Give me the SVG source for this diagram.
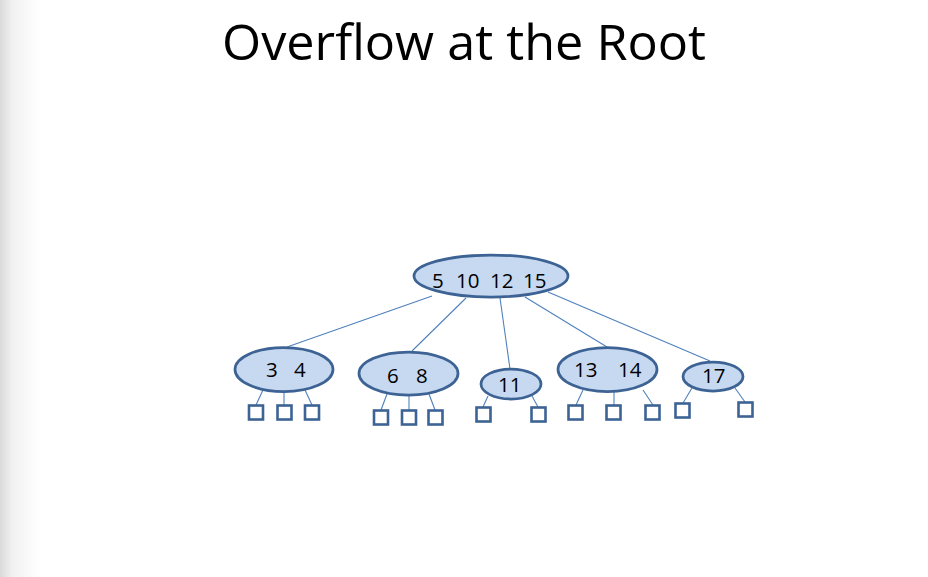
<svg xmlns="http://www.w3.org/2000/svg" width="928" height="577" viewBox="0 0 928 577">
<defs>
<linearGradient id="shade" x1="0" y1="0" x2="1" y2="0">
<stop offset="0" stop-color="#dadada"/>
<stop offset="0.3" stop-color="#f1f1f1"/>
<stop offset="1" stop-color="#ffffff"/>
</linearGradient>
<style>
.node ellipse{fill:#c6d9f1;stroke:#3d6394;stroke-width:2.75}
.node text{font-family:"Open Sans","Liberation Sans",sans-serif;font-size:20.5px;fill:#000}
.leaf{fill:#fff;stroke:#3d6394;stroke-width:2.6}
.conn line{stroke:#4f81bd;stroke-width:1.1}
.title{font-family:"Open Sans","Liberation Sans",sans-serif;font-size:49px;fill:#000}
</style>
</defs>
<rect width="928" height="577" fill="#fff"/>
<rect x="0" y="0" width="40" height="577" fill="url(#shade)"/>
<text class="title" x="222" y="60" textLength="484" lengthAdjust="spacingAndGlyphs">Overflow at the Root</text>
<g id="connectors" class="conn">
<line x1="432" y1="296" x2="287" y2="347"/>
<line x1="466" y1="298" x2="412" y2="351"/>
<line x1="500" y1="298" x2="510" y2="369"/>
<line x1="525" y1="297" x2="607" y2="347"/>
<line x1="548" y1="292" x2="710" y2="361"/>
<line x1="263" y1="390" x2="256" y2="405"/>
<line x1="284" y1="392" x2="284" y2="405"/>
<line x1="305" y1="390" x2="312" y2="405"/>
<line x1="387" y1="394" x2="381" y2="410"/>
<line x1="409" y1="395" x2="409" y2="410"/>
<line x1="429" y1="394" x2="435" y2="410"/>
<line x1="488" y1="396" x2="483" y2="407"/>
<line x1="532" y1="396" x2="538" y2="407"/>
<line x1="583" y1="390" x2="576" y2="405"/>
<line x1="614" y1="392" x2="614" y2="405"/>
<line x1="643" y1="390" x2="653" y2="405"/>
<line x1="692" y1="388" x2="683" y2="403"/>
<line x1="735" y1="388" x2="745" y2="402"/>
</g>
<g id="root" class="node"><ellipse cx="491" cy="276" rx="77" ry="21"/><text y="288"><tspan x="432">5 </tspan><tspan x="456">10 </tspan><tspan x="490">12 </tspan><tspan x="523">15</tspan></text></g>
<g id="n34" class="node"><ellipse cx="284" cy="369.5" rx="49" ry="22"/><text y="377"><tspan x="266">3 </tspan><tspan x="294">4</tspan></text></g>
<g id="n68" class="node"><ellipse cx="408.5" cy="373.5" rx="49.5" ry="21.5"/><text y="383"><tspan x="387">6 </tspan><tspan x="416">8</tspan></text></g>
<g id="n11" class="node"><ellipse cx="511" cy="384" rx="30" ry="15"/><text x="498" y="392">11</text></g>
<g id="n1314" class="node"><ellipse cx="607.5" cy="369.5" rx="49.5" ry="22"/><text y="377"><tspan x="574">13 </tspan><tspan x="618">14</tspan></text></g>
<g id="n17" class="node"><ellipse cx="713" cy="376.5" rx="30" ry="14.5"/><text x="702" y="383">17</text></g>
<g id="leaves">
<rect class="leaf" x="249" y="405.5" width="14" height="14"/>
<rect class="leaf" x="277.5" y="405.5" width="14" height="14"/>
<rect class="leaf" x="305" y="405.5" width="14" height="14"/>
<rect class="leaf" x="374" y="410.5" width="14" height="14"/>
<rect class="leaf" x="402" y="410.5" width="14" height="14"/>
<rect class="leaf" x="428.5" y="410.5" width="14" height="14"/>
<rect class="leaf" x="476.5" y="407.5" width="14" height="14"/>
<rect class="leaf" x="531.5" y="407.5" width="14" height="14"/>
<rect class="leaf" x="568.5" y="405.5" width="14" height="14"/>
<rect class="leaf" x="606.5" y="405.5" width="14" height="14"/>
<rect class="leaf" x="645.5" y="405.5" width="14" height="14"/>
<rect class="leaf" x="675.5" y="403.5" width="14" height="14"/>
<rect class="leaf" x="738.5" y="402.5" width="14" height="14"/>
</g>
</svg>
